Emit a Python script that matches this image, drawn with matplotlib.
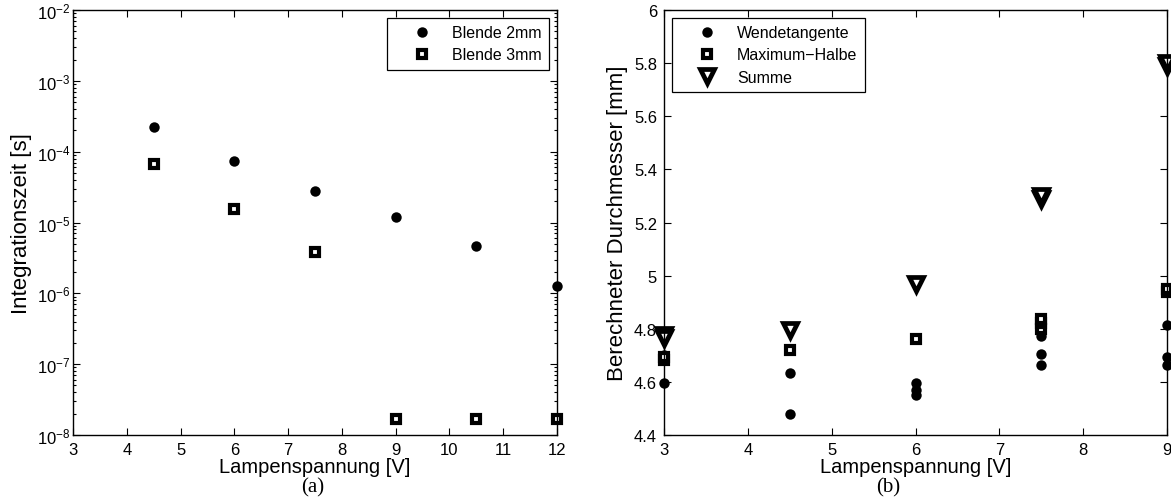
import matplotlib
matplotlib.use("Agg")
import matplotlib.pyplot as plt
from matplotlib.ticker import FixedLocator, FuncFormatter, LogLocator, NullFormatter

plt.rcParams['font.family'] = ['Liberation Sans', 'DejaVu Sans']
plt.rcParams['mathtext.fontset'] = 'custom'
plt.rcParams['mathtext.rm'] = 'Liberation Sans'

# (a) Integrationszeit über Lampenspannung
spannung_a = [4.5, 6, 7.5, 9, 10.5, 12]
blende_2mm = [2.24e-4, 7.5e-5, 2.74e-5, 1.19e-5, 4.68e-6, 1.27e-6]
blende_3mm = [6.7e-5, 1.53e-5, 3.87e-6, 1.69e-8, 1.69e-8, 1.69e-8]

# (b) Berechneter Durchmesser über Lampenspannung
spannung_wende = [3, 3, 3, 4.5, 4.5, 6, 6, 6, 7.5, 7.5, 7.5, 9, 9, 9]
wendetangente = [4.594, 4.70, 4.69, 4.634, 4.480, 4.595, 4.571, 4.551,
                 4.774, 4.706, 4.663, 4.816, 4.692, 4.663]
spannung_halbe = [3, 3, 4.5, 6, 7.5, 7.5, 7.5, 9, 9]
maximum_halbe = [4.683, 4.695, 4.72, 4.763, 4.80, 4.82, 4.835, 4.94, 4.948]
spannung_summe = [3, 3, 4.5, 6, 7.5, 7.5, 9, 9]
summe = [4.777, 4.765, 4.795, 4.969, 5.288, 5.300, 5.79, 5.80]

x_ticks_a = [3, 4, 5, 6, 7, 8, 9, 10, 11, 12]
x_ticks_b = [3, 4, 5, 6, 7, 8, 9]
y_ticks_b = [4.4, 4.6, 4.8, 5.0, 5.2, 5.4, 5.6, 5.8, 6.0]

W, H = 1171, 502
fig = plt.figure(figsize=(W / 100, H / 100), dpi=100)

def frac_axes(x0, y0, x1, y1):
    return fig.add_axes([x0 / W, 1 - y1 / H, (x1 - x0) / W, (y1 - y0) / H])

ax_a = frac_axes(73, 11, 557, 436)
ax_b = frac_axes(664, 11, 1167, 436)

circle_kw = dict(linestyle='none', marker='o', markersize=7.5, color='black',
                 markeredgewidth=0, clip_on=False)
square_kw = dict(linestyle='none', marker='s', markersize=6.2, markerfacecolor='white',
                 markeredgecolor='black', markeredgewidth=3.0, clip_on=False)
tri_kw = dict(linestyle='none', marker='v', markersize=9.5, markerfacecolor='white',
              markeredgecolor='black', markeredgewidth=3.4, clip_on=False)

# Panel (a)
ax_a.plot(spannung_a, blende_2mm, label='Blende 2mm', **circle_kw)
ax_a.plot(spannung_a, blende_3mm, label='Blende 3mm', **square_kw)
ax_a.set_yscale('log')
ax_a.set_xlim(3, 12)
ax_a.set_ylim(1e-8, 1e-2)
ax_a.xaxis.set_major_locator(FixedLocator(x_ticks_a))
ax_a.yaxis.set_major_locator(LogLocator(base=10, numticks=20))
ax_a.yaxis.set_minor_locator(LogLocator(base=10, subs=range(2, 10), numticks=20))
ax_a.yaxis.set_minor_formatter(NullFormatter())
ax_a.set_xlabel('Lampenspannung [V]', fontsize=14.5, labelpad=0)
ax_a.set_ylabel('Integrationszeit [s]', fontsize=16, labelpad=3)

# Panel (b)
ax_b.plot(spannung_wende, wendetangente, label='Wendetangente', **circle_kw)
ax_b.plot(spannung_halbe, maximum_halbe, label='Maximum\u2212Halbe', **square_kw)
ax_b.plot(spannung_summe, summe, label='Summe', **tri_kw)
ax_b.set_xlim(3, 9)
ax_b.set_ylim(4.4, 6.0)
ax_b.xaxis.set_major_locator(FixedLocator(x_ticks_b))
ax_b.yaxis.set_major_locator(FixedLocator(y_ticks_b))
ax_b.yaxis.set_major_formatter(FuncFormatter(lambda v, p: f'{v:g}'))
ax_b.set_xlabel('Lampenspannung [V]', fontsize=14.5, labelpad=0)
ax_b.set_ylabel('Berechneter Durchmesser [mm]', fontsize=16, labelpad=4)

for ax in (ax_a, ax_b):
    ax.tick_params(which='both', direction='in', top=True, right=True,
                   labelsize=12, width=0.8)
    ax.tick_params(which='major', length=5, pad=5)
    ax.tick_params(which='minor', length=2.5)
    for s in ax.spines.values():
        s.set_linewidth(1.0)
ax_a.tick_params(axis='y', which='major', pad=2)

leg_kw = dict(frameon=True, fancybox=False, framealpha=1, edgecolor='black',
              fontsize=11.5, handlelength=3.5, handletextpad=0.12,
              borderpad=0.45, labelspacing=0.45, borderaxespad=0.5)
leg_a = ax_a.legend(loc='upper right', **leg_kw)
leg_a.get_frame().set_linewidth(0.9)
leg_b = ax_b.legend(loc='upper left', **leg_kw)
leg_b.get_frame().set_linewidth(0.9)

fig.text(313 / W, 1 - 488 / H, '(a)', ha='center', va='center', fontsize=15,
         family='Liberation Serif')
fig.text(888 / W, 1 - 488 / H, '(b)', ha='center', va='center', fontsize=15,
         family='Liberation Serif')

fig.savefig('out.png', dpi=100)
